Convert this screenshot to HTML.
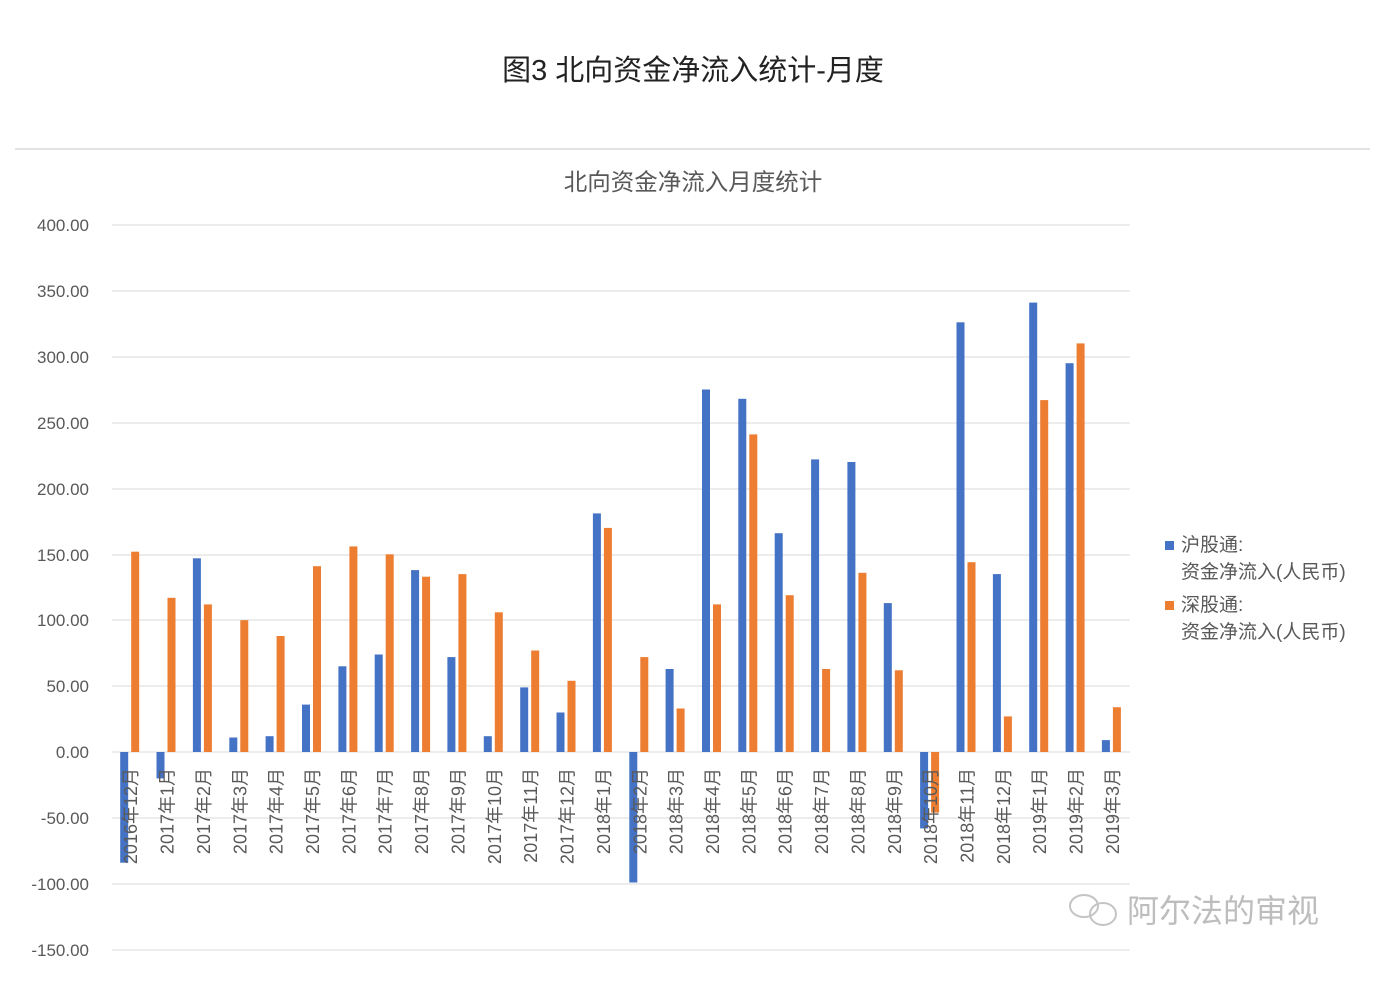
<!DOCTYPE html>
<html><head><meta charset="utf-8"><style>
html,body{margin:0;padding:0;background:#fff;}
svg{display:block;font-family:"Liberation Sans","Noto Sans CJK SC",sans-serif;}
</style></head><body>
<svg width="1393" height="1008" viewBox="0 0 1393 1008" xmlns="http://www.w3.org/2000/svg">
<text x="693" y="80" font-size="29" text-anchor="middle" fill="#222">图3 北向资金净流入统计-月度</text>
<line x1="15" y1="149" x2="1370" y2="149" stroke="#e3e3e3" stroke-width="2"/>
<text x="693" y="190" font-size="23.5" text-anchor="middle" fill="#595959">北向资金净流入月度统计</text>
<g stroke="#d9d9d9" stroke-width="1">
<line x1="112" y1="225" x2="1130" y2="225"/><line x1="112" y1="291" x2="1130" y2="291"/>
<line x1="112" y1="357" x2="1130" y2="357"/><line x1="112" y1="423" x2="1130" y2="423"/>
<line x1="112" y1="489" x2="1130" y2="489"/><line x1="112" y1="555" x2="1130" y2="555"/>
<line x1="112" y1="620" x2="1130" y2="620"/><line x1="112" y1="686" x2="1130" y2="686"/>
<line x1="112" y1="752" x2="1130" y2="752"/><line x1="112" y1="818" x2="1130" y2="818"/>
<line x1="112" y1="884" x2="1130" y2="884"/><line x1="112" y1="950" x2="1130" y2="950"/>
</g>
<g font-size="17" fill="#595959" text-anchor="end">
<text x="89" y="231">400.00</text><text x="89" y="297">350.00</text><text x="89" y="363">300.00</text>
<text x="89" y="429">250.00</text><text x="89" y="495">200.00</text><text x="89" y="561">150.00</text>
<text x="89" y="626">100.00</text><text x="89" y="692">50.00</text><text x="89" y="758">0.00</text>
<text x="89" y="824">-50.00</text><text x="89" y="890">-100.00</text><text x="89" y="956">-150.00</text>
</g>
<g fill="#4472C4">
<rect x="120.2" y="752" width="8" height="110.7"/>
<rect x="156.5" y="752" width="8" height="26.4"/>
<rect x="192.9" y="558.3" width="8" height="193.7"/>
<rect x="229.3" y="737.5" width="8" height="14.5"/>
<rect x="265.6" y="736.2" width="8" height="15.8"/>
<rect x="302" y="704.6" width="8" height="47.4"/>
<rect x="338.4" y="666.3" width="8" height="85.7"/>
<rect x="374.7" y="654.5" width="8" height="97.5"/>
<rect x="411.1" y="570.1" width="8" height="181.9"/>
<rect x="447.4" y="657.1" width="8" height="94.9"/>
<rect x="483.8" y="736.2" width="8" height="15.8"/>
<rect x="520.2" y="687.4" width="8" height="64.6"/>
<rect x="556.5" y="712.5" width="8" height="39.5"/>
<rect x="592.9" y="513.4" width="8" height="238.6"/>
<rect x="629.3" y="752" width="8" height="130.5"/>
<rect x="665.6" y="669" width="8" height="83"/>
<rect x="702" y="389.5" width="8" height="362.5"/>
<rect x="738.3" y="398.8" width="8" height="353.2"/>
<rect x="774.7" y="533.2" width="8" height="218.8"/>
<rect x="811.1" y="459.4" width="8" height="292.6"/>
<rect x="847.4" y="462" width="8" height="290"/>
<rect x="883.8" y="603.1" width="8" height="148.9"/>
<rect x="920.1" y="752" width="8" height="76.4"/>
<rect x="956.5" y="322.3" width="8" height="429.7"/>
<rect x="992.9" y="574.1" width="8" height="177.9"/>
<rect x="1029.2" y="302.6" width="8" height="449.4"/>
<rect x="1065.6" y="363.2" width="8" height="388.8"/>
<rect x="1101.9" y="740.1" width="8" height="11.9"/>
</g>
<g fill="#ED7D31">
<rect x="131.2" y="551.7" width="8" height="200.3"/>
<rect x="167.5" y="597.8" width="8" height="154.2"/>
<rect x="203.9" y="604.4" width="8" height="147.6"/>
<rect x="240.3" y="620.2" width="8" height="131.8"/>
<rect x="276.6" y="636" width="8" height="116"/>
<rect x="313" y="566.2" width="8" height="185.8"/>
<rect x="349.4" y="546.4" width="8" height="205.6"/>
<rect x="385.7" y="554.3" width="8" height="197.7"/>
<rect x="422.1" y="576.7" width="8" height="175.3"/>
<rect x="458.4" y="574.1" width="8" height="177.9"/>
<rect x="494.8" y="612.3" width="8" height="139.7"/>
<rect x="531.2" y="650.5" width="8" height="101.5"/>
<rect x="567.5" y="680.8" width="8" height="71.2"/>
<rect x="603.9" y="527.9" width="8" height="224.1"/>
<rect x="640.3" y="657.1" width="8" height="94.9"/>
<rect x="676.6" y="708.5" width="8" height="43.5"/>
<rect x="713" y="604.4" width="8" height="147.6"/>
<rect x="749.3" y="434.4" width="8" height="317.6"/>
<rect x="785.7" y="595.2" width="8" height="156.8"/>
<rect x="822.1" y="669" width="8" height="83"/>
<rect x="858.4" y="572.8" width="8" height="179.2"/>
<rect x="894.8" y="670.3" width="8" height="81.7"/>
<rect x="931.1" y="752" width="8" height="60.6"/>
<rect x="967.5" y="562.2" width="8" height="189.8"/>
<rect x="1003.9" y="716.4" width="8" height="35.6"/>
<rect x="1040.2" y="400.1" width="8" height="351.9"/>
<rect x="1076.6" y="343.4" width="8" height="408.6"/>
<rect x="1112.9" y="707.2" width="8" height="44.8"/>
</g>
<g font-size="18" fill="#595959" text-anchor="end">
<text transform="translate(137.2,768) rotate(-90)">2016年12月</text>
<text transform="translate(173.5,768) rotate(-90)">2017年1月</text>
<text transform="translate(209.9,768) rotate(-90)">2017年2月</text>
<text transform="translate(246.3,768) rotate(-90)">2017年3月</text>
<text transform="translate(282.6,768) rotate(-90)">2017年4月</text>
<text transform="translate(319,768) rotate(-90)">2017年5月</text>
<text transform="translate(355.4,768) rotate(-90)">2017年6月</text>
<text transform="translate(391.7,768) rotate(-90)">2017年7月</text>
<text transform="translate(428.1,768) rotate(-90)">2017年8月</text>
<text transform="translate(464.4,768) rotate(-90)">2017年9月</text>
<text transform="translate(500.8,768) rotate(-90)">2017年10月</text>
<text transform="translate(537.2,768) rotate(-90)">2017年11月</text>
<text transform="translate(573.5,768) rotate(-90)">2017年12月</text>
<text transform="translate(609.9,768) rotate(-90)">2018年1月</text>
<text transform="translate(646.3,768) rotate(-90)">2018年2月</text>
<text transform="translate(682.6,768) rotate(-90)">2018年3月</text>
<text transform="translate(719,768) rotate(-90)">2018年4月</text>
<text transform="translate(755.3,768) rotate(-90)">2018年5月</text>
<text transform="translate(791.7,768) rotate(-90)">2018年6月</text>
<text transform="translate(828.1,768) rotate(-90)">2018年7月</text>
<text transform="translate(864.4,768) rotate(-90)">2018年8月</text>
<text transform="translate(900.8,768) rotate(-90)">2018年9月</text>
<text transform="translate(937.1,768) rotate(-90)">2018年10月</text>
<text transform="translate(973.5,768) rotate(-90)">2018年11月</text>
<text transform="translate(1009.9,768) rotate(-90)">2018年12月</text>
<text transform="translate(1046.2,768) rotate(-90)">2019年1月</text>
<text transform="translate(1082.6,768) rotate(-90)">2019年2月</text>
<text transform="translate(1118.9,768) rotate(-90)">2019年3月</text>
</g>
<rect x="1165" y="541" width="9" height="9" fill="#4472C4"/>
<rect x="1165" y="601" width="9" height="9" fill="#ED7D31"/>
<g font-size="19" fill="#595959">
<text x="1181" y="551">沪股通:</text>
<text x="1181" y="578">资金净流入(人民币)</text>
<text x="1181" y="611">深股通:</text>
<text x="1181" y="638">资金净流入(人民币)</text>
</g>
<g fill="none" stroke="#c4c4c4" stroke-width="2">
<ellipse cx="1084" cy="906" rx="14" ry="11"/>
<ellipse cx="1103" cy="914" rx="13" ry="11"/>
</g>
<text x="1127" y="922" font-size="32" fill="#bdbdbd">阿尔法的审视</text>
</svg>
</body></html>
